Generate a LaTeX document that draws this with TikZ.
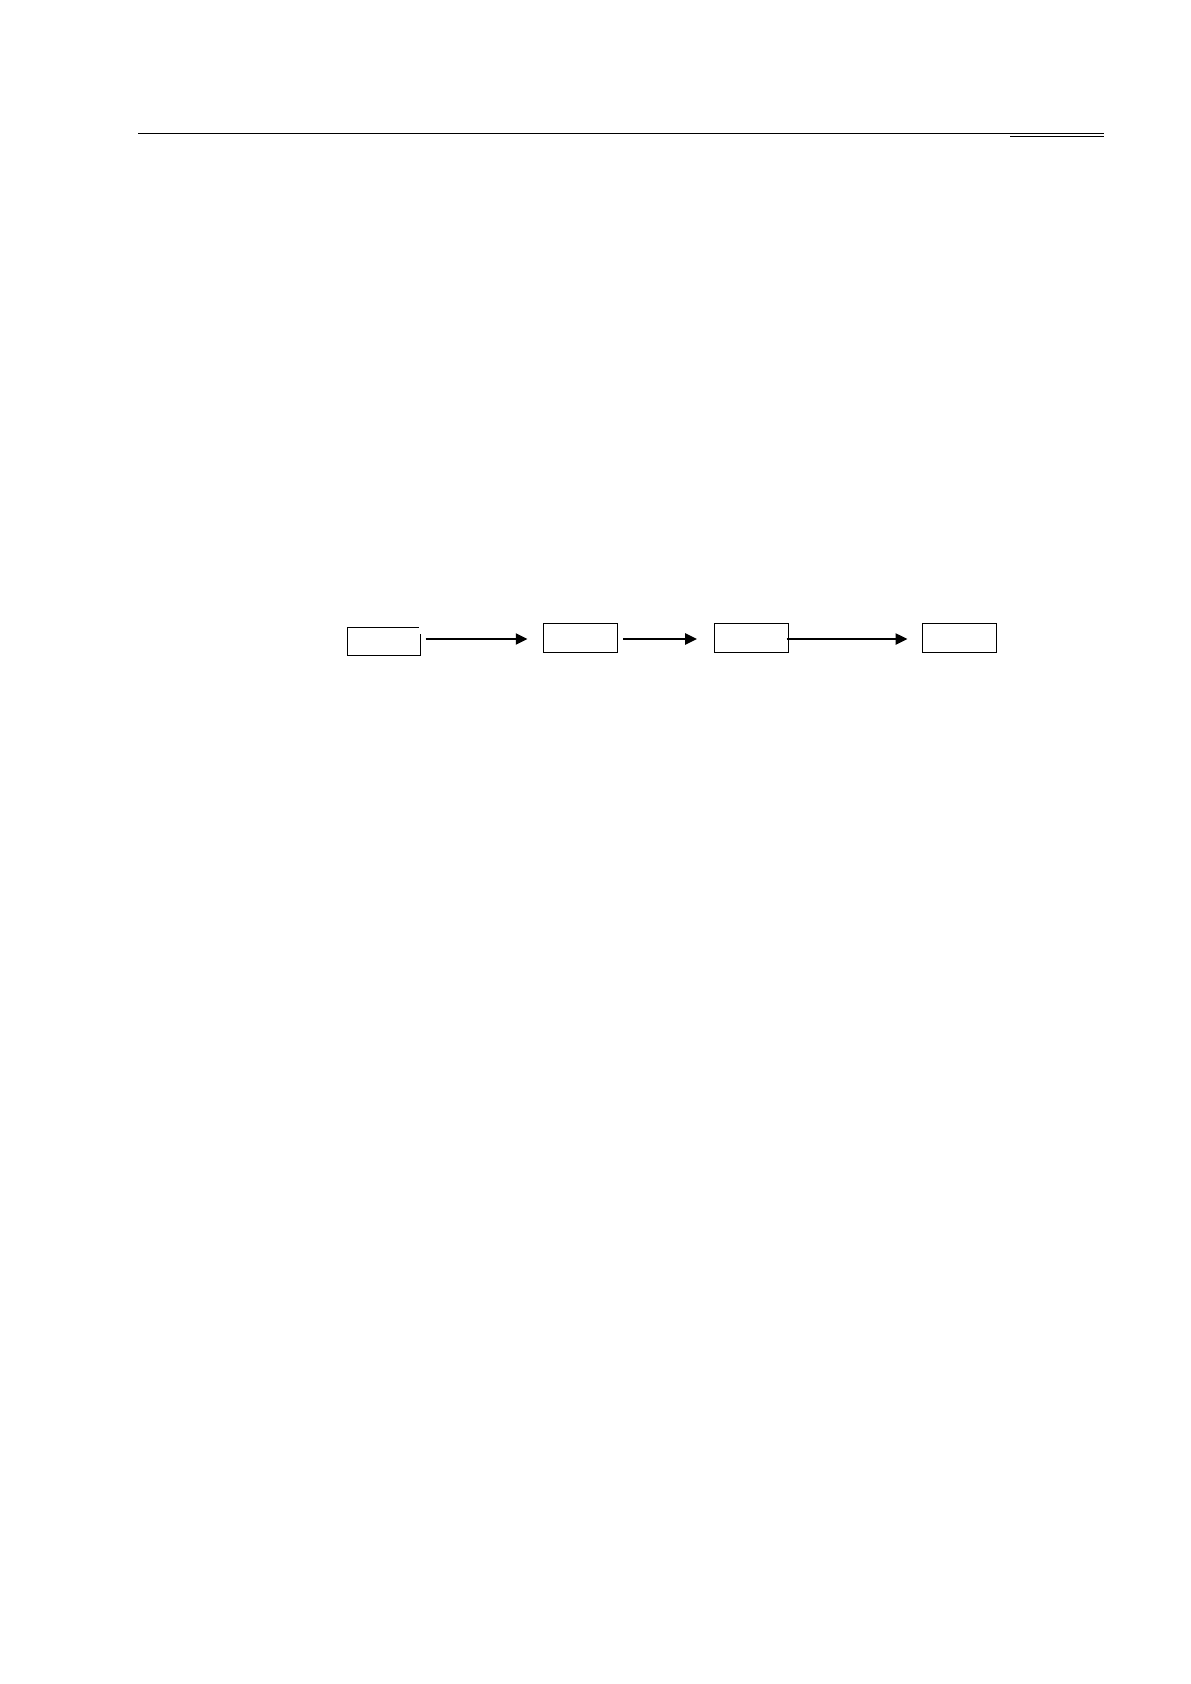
\documentclass[tikz,border=0pt]{standalone}
\usetikzlibrary{arrows.meta}
\tikzset{
  boxnode/.style={draw=none, minimum width=55.5pt, minimum height=21.75pt, inner sep=0pt, outer sep=0pt},
  boxline/.style={line width=0.75pt, black},
  arr/.style={line width=1.1pt, -{Triangle[length=8.8pt, width=8.4pt]}},
  rule/.style={line width=0.75pt, black}
}
\begin{document}
\begin{tikzpicture}[x=0.75pt, y=-0.75pt]
  \useasboundingbox (0,0) rectangle (1190,1684);
  % header rules
  \draw[rule] (138,133.3) -- (1104,133.3);
  \draw[rule] (1010,136.2) -- (1104,136.2);
  % boxes
  \node[boxnode, minimum width=54.75pt, minimum height=20.8pt] (b1) at (383.8,641.2) {};
  \draw[boxline] ([yshift=-5pt]b1.north east) -- (b1.south east) -- (b1.south west) -- (b1.north west) -- ([xshift=-0.75pt]b1.north east);
  \node[boxnode, draw, boxline] (b2) at (580.5,637.8) {};
  \node[boxnode, draw, boxline] (b3) at (751.5,637.8) {};
  \node[boxnode, draw, boxline] (b4) at (959.3,637.8) {};
  % arrows
  \draw[arr, shorten <=4pt, shorten >=12pt] ([yshift=-0.9pt]b1.east |- b2.west) -- ([yshift=-0.9pt]b2.west);
  \draw[arr, shorten <=4.2pt, shorten >=13.2pt] ([yshift=-0.9pt]b2.east) -- ([yshift=-0.9pt]b3.west);
  \draw[arr, shorten <=-1.5pt, shorten >=11.2pt] ([yshift=-0.9pt]b3.east) -- ([yshift=-0.9pt]b4.west);
\end{tikzpicture}
\end{document}
